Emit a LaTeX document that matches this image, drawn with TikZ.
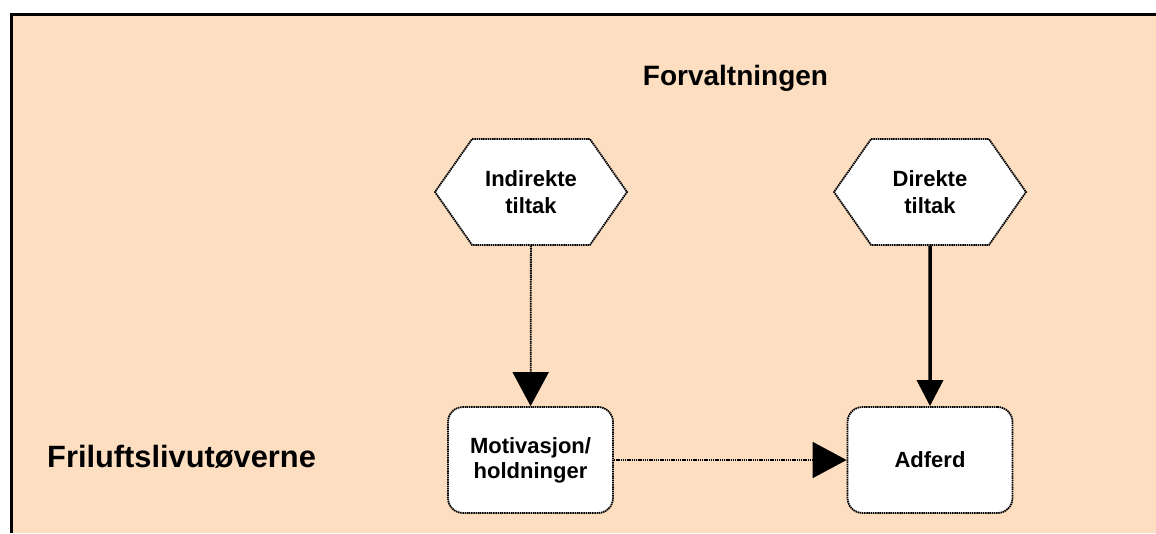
\documentclass[tikz,border=0pt]{standalone}
\usepackage{fontspec}
\setmainfont{Liberation Sans}
\usetikzlibrary{arrows.meta,shapes.symbols}

\definecolor{fersken}{RGB}{253,222,192}

\tikzset{
	tiltak/.style={signal, signal to=west and east, signal pointer angle=110,
		draw, fill=white, dash pattern=on 1.5pt off 0.7pt, line width=1.8pt,
		minimum width=192pt, minimum height=106pt, inner sep=0pt,
		align=center, font=\fontsize{22}{27}\selectfont\bfseries},
	boks/.style={rectangle, rounded corners=15pt, draw, fill=white,
		dash pattern=on 1.5pt off 0.7pt, line width=1.8pt,
		minimum width=165pt, minimum height=106pt, inner sep=0pt,
		align=center, font=\fontsize{22}{25}\selectfont\bfseries},
	svak/.style={dash pattern=on 1.5pt off 0.7pt, line width=1.8pt,
		-{Triangle[length=34pt,width=36pt]}},
	sterk/.style={line width=3.5pt, -{Triangle[length=26pt,width=26pt]}}
}

\begin{document}
\begin{tikzpicture}[x=1pt,y=-1pt]

			\useasboundingbox (0,0) rectangle (1156,533);

			\fill [fersken] (10,13) rectangle (1156,533);
			\draw [line width=3pt] (11.5,533) -- (11.5,14.5) -- (1156,14.5);

			\node[anchor=base, font=\fontsize{28}{32}\selectfont\bfseries] (forvaltning) at (735.5,85) {Forvaltningen};
			\node[anchor=base west, font=\fontsize{30.8}{34}\selectfont\bfseries, inner sep=0pt] (utovere) at (47,467) {Friluftslivutøverne};

			\node[tiltak] (indirekte) at (531,192) {Indirekte\\tiltak};
			\node[tiltak] (direkte) at (930,192) {Direkte\\tiltak};

			\node[boks] (motivasjon) at (530.5,460) {Motivasjon/\\holdninger};
			\node[boks] (adferd) at (930,460) {Adferd};

			\draw [svak] (indirekte) -- (motivasjon);
			\draw [sterk] (direkte) -- (adferd);
			\draw [svak] (motivasjon) -- (adferd);

	\end{tikzpicture}
\end{document}
